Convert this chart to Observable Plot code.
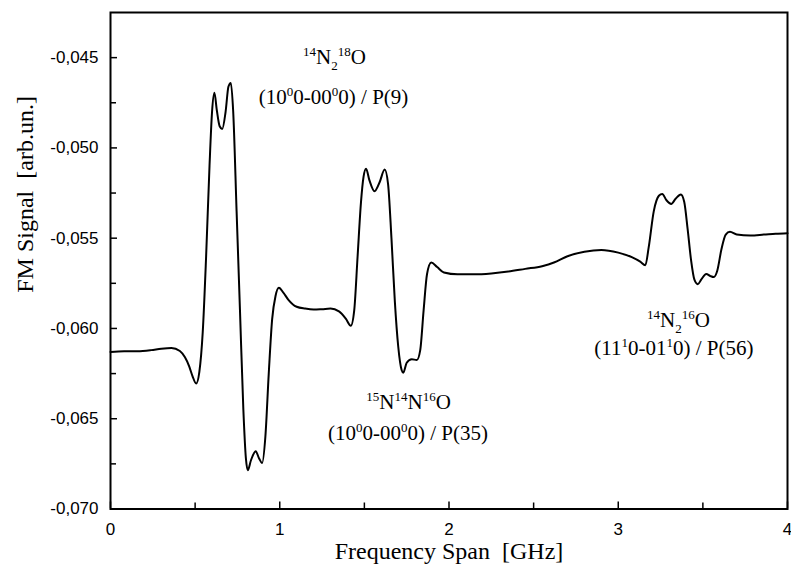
<!DOCTYPE html>
<html>
<head>
<meta charset="utf-8">
<script src="https://cdn.jsdelivr.net/npm/d3@7"></script>
<script src="https://cdn.jsdelivr.net/npm/@observablehq/plot@0.6"></script>
<style>
  html, body { margin: 0; padding: 0; background: #fff; }
  #chart svg { display: block; }
</style>
</head>
<body>
<div id="chart"></div>
<script>
// Frequency span (GHz)
const freq = [
  0.00, 0.08, 0.16, 0.24, 0.30, 0.36, 0.41, 0.44, 0.465, 0.485,
  0.506, 0.525, 0.545, 0.565, 0.585, 0.600, 0.614, 0.628, 0.645, 0.660,
  0.680, 0.697, 0.711, 0.725, 0.745, 0.765, 0.785, 0.800, 0.811, 0.830,
  0.858, 0.878, 0.896, 0.915, 0.935, 0.955, 0.975, 0.995, 1.02, 1.05,
  1.10, 1.15, 1.20, 1.25, 1.30, 1.35, 1.39, 1.42, 1.44, 1.46,
  1.48, 1.495, 1.51, 1.53, 1.56, 1.59, 1.62, 1.64, 1.66, 1.68,
  1.70, 1.72, 1.73, 1.75, 1.78, 1.81, 1.83, 1.85, 1.87, 1.895,
  1.93, 1.97, 2.05, 2.15, 2.25, 2.35, 2.45, 2.55, 2.62, 2.70,
  2.80, 2.90, 3.00, 3.08, 3.13, 3.16, 3.18, 3.21, 3.24, 3.26,
  3.285, 3.313, 3.34, 3.37, 3.39, 3.41, 3.43, 3.45, 3.47, 3.49,
  3.52, 3.545, 3.565, 3.585, 3.61, 3.635, 3.66, 3.70, 3.78, 3.86,
  3.93, 4.00
];
// FM signal (arb. units)
const signal = [
  -0.06130, -0.06126, -0.06126, -0.06120, -0.06112, -0.06108, -0.06125, -0.06160, -0.06210, -0.06265,
  -0.06305, -0.06240, -0.06020, -0.05600, -0.05100, -0.04800, -0.04695, -0.04790, -0.04880, -0.04895,
  -0.04800, -0.04660, -0.04640, -0.04800, -0.05350, -0.05900, -0.06450, -0.06720, -0.06785, -0.06730,
  -0.06680, -0.06720, -0.06745, -0.06600, -0.06250, -0.05950, -0.05820, -0.05775, -0.05800, -0.05840,
  -0.05880, -0.05890, -0.05895, -0.05893, -0.05890, -0.05905, -0.05945, -0.05985, -0.05900, -0.05600,
  -0.05300, -0.05160, -0.05115, -0.05180, -0.05240, -0.05190, -0.05120, -0.05200, -0.05500, -0.05850,
  -0.06100, -0.06230, -0.06245, -0.06190, -0.06170, -0.06175, -0.06120, -0.05900, -0.05700, -0.05635,
  -0.05660, -0.05690, -0.05700, -0.05700, -0.05695, -0.05685, -0.05670, -0.05655, -0.05635, -0.05600,
  -0.05575, -0.05565, -0.05580, -0.05605, -0.05630, -0.05650, -0.05550, -0.05350, -0.05265, -0.05255,
  -0.05290, -0.05310, -0.05280, -0.05258, -0.05300, -0.05450, -0.05620, -0.05730, -0.05755, -0.05730,
  -0.05698, -0.05710, -0.05715, -0.05680, -0.05560, -0.05480, -0.05465, -0.05480, -0.05485, -0.05480,
  -0.05475, -0.05472
];

const xMajorTicks = [0, 1, 2, 3, 4];
const xMinorTicks = [0.5, 1.5, 2.5, 3.5];
const yMajorTicks = [-0.070, -0.065, -0.060, -0.055, -0.050, -0.045];
const yMinorTicks = [-0.0675, -0.0625, -0.0575, -0.0525, -0.0475];

const xTitle = "Frequency Span\u2002[GHz]";
const yTitle = "FM Signal\u2002[arb.un.]";

// Annotation lines (markup: ^{..} superscript, _{..} subscript)
const annText = [
  "^{14}N_{2}^{18}O",
  "(10^{0}0-00^{0}0) / P(9)",
  "^{15}N^{14}N^{16}O",
  "(10^{0}0-00^{0}0) / P(35)",
  "^{14}N_{2}^{16}O",
  "(11^{1}0-01^{1}0) / P(56)"
];
const annX = [1.3235, 1.318, 1.761, 1.758, 3.356, 3.329];
const annY = [-0.0450, -0.04721, -0.06409, -0.06580, -0.05956, -0.06111];

const points = freq.map((f, i) => ({f, s: signal[i]}));
const anns = annText.map((t, i) => ({t, x: annX[i], y: annY[i]}));

const fmt = d => d.toFixed(3).replace(".", ",");
const serif = "'Liberation Serif', 'Times New Roman', serif";
const sans = "'Liberation Sans', Arial, sans-serif";

const chart = Plot.plot({
  width: 791,
  height: 573,
  marginLeft: 110,
  marginRight: 4,
  marginTop: 12,
  marginBottom: 64.5,
  x: {domain: [0, 4]},
  y: {domain: [-0.070, -0.0425]},
  style: {fontFamily: sans, background: "#fff", color: "#000"},
  marks: [
    Plot.axisX({ticks: xMinorTicks, tickSize: -6, tickFormat: () => "", label: null, strokeWidth: 1.5}),
    Plot.axisX({ticks: xMajorTicks, tickSize: -7, tickPadding: 21, fontSize: 17, label: null, strokeWidth: 1.5, tickFormat: d => String(d)}),
    Plot.axisY({ticks: yMinorTicks, tickSize: -6, tickFormat: () => "", label: null, strokeWidth: 1.5}),
    Plot.axisY({ticks: yMajorTicks, tickSize: -7, tickPadding: 19, fontSize: 17, label: null, strokeWidth: 1.5, tickFormat: fmt}),
    Plot.line(points, {x: "f", y: "s", stroke: "#000", strokeWidth: 2, curve: "monotone-x"}),
    Plot.text(anns, {x: "x", y: "y", text: "t", fontSize: 21, fontFamily: serif, textAnchor: "middle", lineAnchor: "middle", fill: "#000"}),
    Plot.text([xTitle], {frameAnchor: "bottom", dy: 42, fontSize: 24, fontFamily: serif, fill: "#000", lineAnchor: "middle"}),
    Plot.text([yTitle], {frameAnchor: "left", dx: -85, dy: 32, rotate: -90, fontSize: 24, fontFamily: serif, fill: "#000", lineAnchor: "middle"}),
    Plot.frame({stroke: "#000", strokeWidth: 2})
  ]
});

// Convert markup to tspans with superscripts / subscripts
chart.querySelectorAll("text").forEach(t => {
  const s = t.textContent;
  if (!/[\^_]\{/.test(s)) return;
  while (t.firstChild) t.removeChild(t.firstChild);
  const re = /\^\{([^}]*)\}|_\{([^}]*)\}|([^\^_]+)/g;
  let cur = 0, m;
  while ((m = re.exec(s))) {
    const ts = document.createElementNS("http://www.w3.org/2000/svg", "tspan");
    let target = 0, txt;
    if (m[1] !== undefined) { target = -8; txt = m[1]; ts.setAttribute("font-size", 13); }
    else if (m[2] !== undefined) { target = 6; txt = m[2]; ts.setAttribute("font-size", 13); }
    else { txt = m[3]; }
    ts.setAttribute("dy", target - cur);
    cur = target;
    ts.textContent = txt;
    t.appendChild(ts);
  }
});

document.getElementById("chart").appendChild(chart);
</script>
</body>
</html>
